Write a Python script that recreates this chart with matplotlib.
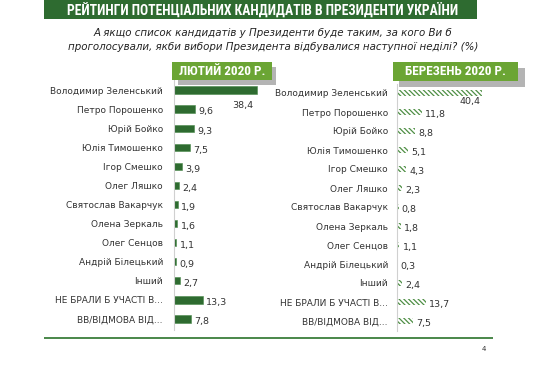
import matplotlib
matplotlib.use("Agg")
import matplotlib.pyplot as plt
from matplotlib.patches import Rectangle

W, H = 540, 371

categories = ["Володимир Зеленський", "Петро Порошенко", "Юрій Бойко", "Юлія Тимошенко",
              "Ігор Смешко", "Олег Ляшко", "Святослав Вакарчук", "Олена Зеркаль",
              "Олег Сенцов", "Андрій Білецький", "Інший", "НЕ БРАЛИ Б УЧАСТІ В...",
              "ВВ/ВІДМОВА ВІД..."]
feb_values = [38.4, 9.6, 9.3, 7.5, 3.9, 2.4, 1.9, 1.6, 1.1, 0.9, 2.7, 13.3, 7.8]
mar_values = [40.4, 11.8, 8.8, 5.1, 4.3, 2.3, 0.8, 1.8, 1.1, 0.3, 2.4, 13.7, 7.5]
title = "РЕЙТИНГИ ПОТЕНЦІАЛЬНИХ КАНДИДАТІВ В ПРЕЗИДЕНТИ УКРАЇНИ"
subtitle = ("А якщо список кандидатів у Президенти буде таким, за кого Ви б\n"
            "проголосували, якби вибори Президента відбувалися наступної неділі? (%)")
feb_label = "ЛЮТИЙ 2020 Р."
mar_label = "БЕРЕЗЕНЬ 2020 Р."

DARK = "#2E6B30"
LIGHT = "#6BA534"
HATCH = "#4F8F45"
COND = ["Roboto Condensed", "Liberation Sans Narrow", "Roboto", "DejaVu Sans"]

plt.rcParams["hatch.linewidth"] = 0.9

fig = plt.figure(figsize=(W / 100, H / 100), dpi=100)
fig.patch.set_facecolor("white")


def fx(x):
    return x / W


def fy(y):
    return 1 - y / H


def rect(x0, y0, x1, y1, color, z=1):
    fig.patches.append(Rectangle((fx(x0), fy(y1)), fx(x1) - fx(x0), fy(y0) - fy(y1),
                                 transform=fig.transFigure, facecolor=color,
                                 edgecolor="none", zorder=z))


fit_list = []

# title bar
rect(44, 0, 477, 19, DARK)
t_title = fig.text(fx(263), fy(10), title, color="white", fontsize=10, fontweight="bold",
                   family=COND, ha="center", va="center")
fit_list.append((t_title, 390, 10.5))
fig.text(fx(273), fy(40), subtitle, fontsize=7.4, style="italic", ha="center",
         va="center", multialignment="center", linespacing=1.45, color="#222222")

# header boxes with shadows
rect(178, 67, 276, 85, "#B4B4B4", z=1)
rect(172, 62, 272, 80, LIGHT, z=2)
t_feb = fig.text(fx(222), fy(71.5), feb_label, color="white", fontsize=9, fontweight="bold",
                 family=COND, ha="center", va="center", zorder=3)
fit_list.append((t_feb, 88, 9.5))
rect(399, 68, 525, 87, "#B4B4B4", z=1)
rect(393, 62, 518, 81, LIGHT, z=2)
t_mar = fig.text(fx(455.5), fy(71.5), mar_label, color="white", fontsize=9, fontweight="bold",
                 family=COND, ha="center", va="center", zorder=3)
fit_list.append((t_mar, 105, 9.5))

# bottom line and page number
rect(44, 337, 493, 339, "#4E8A4E")
fig.text(fx(484), fy(349), "4", fontsize=5, ha="center", va="center", color="#333333")

n = len(categories)


def make_axes(x0, row0, row_last, ytop, ybot, scale, width):
    sp = (row_last - row0) / (n - 1)
    ax = fig.add_axes([fx(x0), fy(ybot), width / W, (ybot - ytop) / H])
    ax.set_xlim(0, width / scale)
    ax.set_ylim((ybot - row0) / sp, (ytop - row0) / sp)
    for s in ["top", "right", "bottom"]:
        ax.spines[s].set_visible(False)
    ax.spines["left"].set_color("#D0D0D0")
    ax.spines["left"].set_linewidth(0.8)
    ax.set_xticks([])
    ax.set_facecolor("none")
    return ax, sp


# left panel (February)
axL, spL = make_axes(174, 90, 319, 80, 330, 2.17, 110)
axL.barh(range(n), feb_values, height=0.38, color=DARK, edgecolor="#4A8A4A", linewidth=0.4)
axL.set_yticks(range(n))
axL.set_yticklabels(categories, fontsize=6.5, color="#333333")
axL.tick_params(axis="y", length=0, pad=8)
for i, v in enumerate(feb_values):
    lab = f"{v:.1f}".replace(".", ",")
    if i == 0:
        axL.text(v - 1.8, i + 0.82, lab, fontsize=6.8, ha="right", va="center", color="#333333")
    else:
        axL.text(v + 1.5, i + 0.15, lab, fontsize=6.8, ha="left", va="center", color="#333333")

# right panel (March)
axR, spR = make_axes(397, 93, 321, 84, 331, 2.1, 110)
axR.barh(range(n), mar_values, height=0.32, facecolor="white", edgecolor=HATCH,
         hatch="\\\\\\\\\\\\\\", linewidth=0)
axR.set_yticks(range(n))
axR.set_yticklabels(categories, fontsize=6.5, color="#333333")
axR.tick_params(axis="y", length=0, pad=6.5)
for i, v in enumerate(mar_values):
    lab = f"{v:.1f}".replace(".", ",")
    if i == 0:
        axR.text(v - 0.5, i + 0.47, lab, fontsize=6.8, ha="right", va="center", color="#333333")
    else:
        axR.text(v + 1.5, i + 0.15, lab, fontsize=6.8, ha="left", va="center", color="#333333")

# fit condensed header texts to their reference widths
fig.canvas.draw()
r = fig.canvas.get_renderer()
for t, target, maxsize in fit_list:
    wpx = t.get_window_extent(r).width
    t.set_fontsize(min(maxsize, t.get_fontsize() * target / wpx))

fig.savefig("out.png", dpi=100)
